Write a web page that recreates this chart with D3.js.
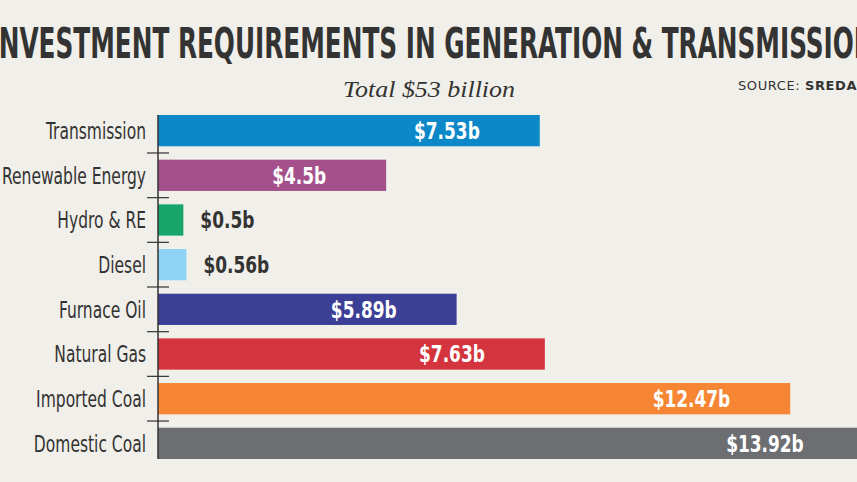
<!DOCTYPE html>
<html>
<head>
<meta charset="utf-8">
<script src="https://cdn.jsdelivr.net/npm/d3@7"></script>
<style>
    body { margin: 0; background: #f1efe9; overflow: hidden; }
    svg { display: block; }
    .cond { font-family: "DejaVu Sans Condensed", "Liberation Sans Narrow", "Noto Sans", sans-serif; }
</style>
</head>
<body>
<div id="chart"></div>
<script>
const categories = ["Transmission", "Renewable Energy", "Hydro & RE", "Diesel", "Furnace Oil", "Natural Gas", "Imported Coal", "Domestic Coal"];
const values = [7.53, 4.5, 0.5, 0.56, 5.89, 7.63, 12.47, 13.92];
const valueLabels = ["$7.53b", "$4.5b", "$0.5b", "$0.56b", "$5.89b", "$7.63b", "$12.47b", "$13.92b"];
const colors = ["#0c87c7", "#a4508b", "#17a56b", "#8ed3f4", "#3c3f96", "#d3343d", "#f68634", "#6d6e72"];

const width = 857;
const height = 482;

const svg = d3.select("#chart")
    .append("svg")
    .attr("width", width)
    .attr("height", height);

svg.append("rect")
    .attr("width", width)
    .attr("height", height)
    .attr("fill", "#f1efe9");

const data = categories.map((c, i) => ({ name: c, value: values[i], label: valueLabels[i], color: colors[i] }));

const x = d3.scaleLinear()
    .domain([0, 14])
    .range([158, 158 + 14 * 50.7]);

const y = d3.scaleBand()
    .domain(categories)
    .range([108.3, 465.7])
    .paddingInner(0.3)
    .paddingOuter(0.15);

// title is wider than the picture, both ends are cut off
svg.append("text")
    .attr("x", 432)
    .attr("y", 58)
    .attr("text-anchor", "middle")
    .attr("class", "cond")
    .attr("font-size", 42)
    .attr("font-weight", "bold")
    .attr("fill", "#333333")
    .attr("textLength", 885)
    .attr("lengthAdjust", "spacingAndGlyphs")
    .text("INVESTMENT REQUIREMENTS IN GENERATION & TRANSMISSION");

svg.append("text")
    .attr("x", 429)
    .attr("y", 97)
    .attr("text-anchor", "middle")
    .attr("font-family", "'Liberation Serif', 'DejaVu Serif', serif")
    .attr("font-style", "italic")
    .attr("font-size", 24)
    .attr("fill", "#333333")
    .attr("textLength", 172)
    .attr("lengthAdjust", "spacingAndGlyphs")
    .text("Total $53 billion");

const source = svg.append("text")
    .attr("x", 738)
    .attr("y", 90)
    .attr("font-family", "'DejaVu Sans', sans-serif")
    .attr("font-size", 13)
    .attr("letter-spacing", 0.6)
    .attr("fill", "#333333");
source.append("tspan").text("SOURCE: ");
source.append("tspan").attr("font-weight", "bold").text("SREDA");

svg.selectAll(".bar")
    .data(data)
    .enter().append("rect")
    .attr("class", "bar")
    .attr("x", x(0))
    .attr("y", d => y(d.name))
    .attr("width", d => x(d.value) - x(0))
    .attr("height", y.bandwidth())
    .attr("fill", d => d.color);

// axis line and ticks between the bands
svg.append("line")
    .attr("x1", x(0))
    .attr("x2", x(0))
    .attr("y1", y(categories[0]))
    .attr("y2", y(categories[categories.length - 1]) + y.bandwidth())
    .attr("stroke", "#333333")
    .attr("stroke-width", 1.5);

svg.selectAll(".tick")
    .data(categories.slice(1))
    .enter().append("line")
    .attr("class", "tick")
    .attr("x1", x(0) - 11)
    .attr("x2", x(0) + 11)
    .attr("y1", d => y(d) - y.step() * y.paddingInner() / 2)
    .attr("y2", d => y(d) - y.step() * y.paddingInner() / 2)
    .attr("stroke", "#333333")
    .attr("stroke-width", 1.2);

// the original face is a narrow one, squeeze the condensed font a bit more
svg.selectAll(".cat-label")
    .data(data)
    .enter().append("text")
    .attr("class", "cat-label cond")
    .attr("transform", d => `translate(146,${y(d.name) + y.bandwidth() / 2}) scale(0.75,1)`)
    .attr("dy", "0.36em")
    .attr("text-anchor", "end")
    .attr("font-size", 23)
    .attr("fill", "#333333")
    .text(d => d.name);

svg.selectAll(".val-label")
    .data(data)
    .enter().append("text")
    .attr("class", "val-label cond")
    .attr("transform", d => {
        const lx = d.value > 2 ? x(d.value) - 60 : x(d.value) + 17;
        return `translate(${lx},${y(d.name) + y.bandwidth() / 2}) scale(0.82,1)`;
    })
    .attr("dy", "0.36em")
    .attr("text-anchor", d => d.value > 2 ? "end" : "start")
    .attr("font-size", 23)
    .attr("font-weight", "bold")
    .attr("fill", d => d.value > 2 ? "#ffffff" : "#333333")
    .text(d => d.label);
</script>
</body>
</html>
